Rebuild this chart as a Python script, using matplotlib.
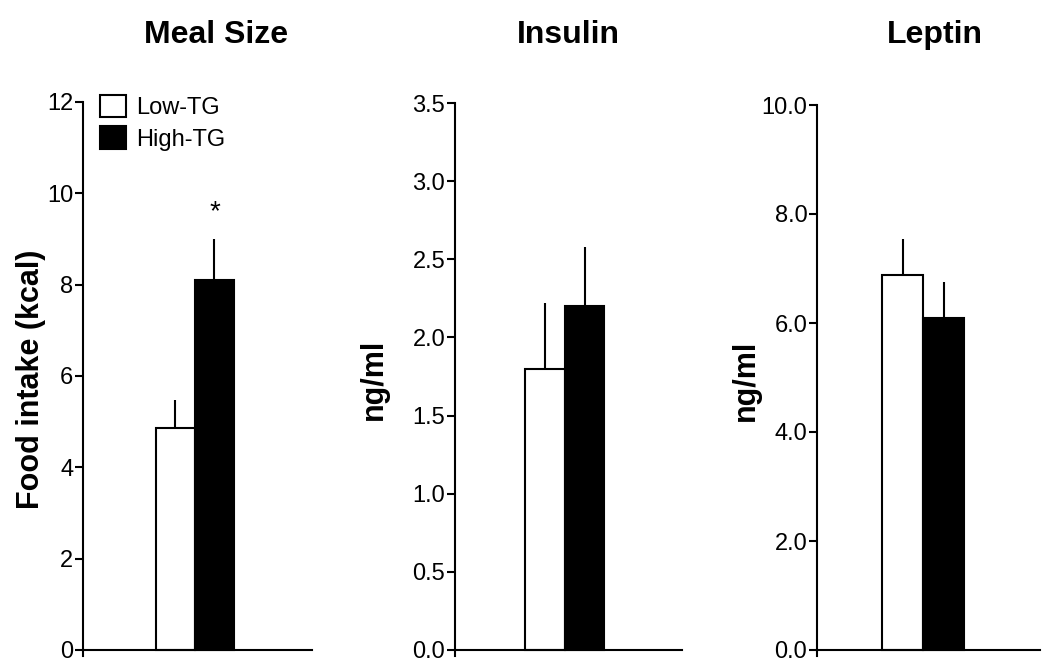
import matplotlib
matplotlib.use('Agg')
import matplotlib.pyplot as plt
from matplotlib.patches import Patch

plt.rcParams['font.family'] = ['Liberation Sans', 'DejaVu Sans']

groups = ['Low-TG', 'High-TG']
titles = ['Meal Size', 'Insulin', 'Leptin']
ylabels = ['Food intake (kcal)', 'ng/ml', 'ng/ml']

meal_mean = [4.86, 8.10]
meal_sem = [0.62, 0.90]
insulin_mean = [1.80, 2.20]
insulin_sem = [0.42, 0.38]
leptin_mean = [6.88, 6.10]
leptin_sem = [0.67, 0.66]

meal_ticks = [0, 2, 4, 6, 8, 10, 12]
insulin_ticks = [0.0, 0.5, 1.0, 1.5, 2.0, 2.5, 3.0, 3.5]
leptin_ticks = [0.0, 2.0, 4.0, 6.0, 8.0, 10.0]

W, H = 1050, 665
fig = plt.figure(figsize=(W / 100, H / 100), dpi=100)

# pixel layout: (left, right, top, xmin, xmax) of each axes, y=0 sits at pixel 650
layout = [(83, 312, 102, -2.87, 3.0), (455, 682, 103, -2.78, 2.96), (817, 1040, 105, -2.59, 2.85)]
means = [meal_mean, insulin_mean, leptin_mean]
sems = [meal_sem, insulin_sem, leptin_sem]
ticks = [meal_ticks, insulin_ticks, leptin_ticks]
fmts = ['{:.0f}', '{:.1f}', '{:.1f}']
label_x = [-0.16, -0.29, -0.25]
title_x = [216, 568, 935]

axes = []
for i in range(3):
    left, right, top, x0, x1 = layout[i]
    bottom = 656
    ax = fig.add_axes([left / W, (H - bottom) / H, (right - left) / W, (bottom - top) / H])
    ymax = ticks[i][-1]
    ax.set_ylim(-ymax * 6 / (650 - top), ymax)
    ax.set_xlim(x0, x1)
    xs = [-0.5, 0.5]
    ax.bar(xs, means[i], width=1.0, color=['white', 'black'], edgecolor='black', linewidth=1.5, zorder=2)
    ax.errorbar(xs, means[i], yerr=[[0, 0], sems[i]], fmt='none', ecolor='black', elinewidth=1.5, capsize=0, zorder=1)
    ax.spines['top'].set_visible(False)
    ax.spines['right'].set_visible(False)
    ax.spines['bottom'].set_position(('data', 0))
    ax.spines['left'].set_linewidth(1.5)
    ax.spines['bottom'].set_linewidth(1.5)
    ax.set_xticks([])
    ax.set_yticks(ticks[i])
    ax.set_yticklabels([fmts[i].format(t) for t in ticks[i]])
    ax.tick_params(axis='y', direction='out', length=6, width=1.5, labelsize=17, pad=1, colors='black')
    ax.set_ylabel(ylabels[i], fontsize=22, fontweight='bold')
    ax.yaxis.set_label_coords(label_x[i], 0.5)
    fig.text(title_x[i] / W, 1 - 35 / H, titles[i], fontsize=23, fontweight='bold', ha='center', va='center')
    axes.append(ax)

# significance mark on meal size
axes[0].text(0.5, meal_mean[1] + meal_sem[1] + 0.3, '*', ha='center', va='bottom', fontsize=20)

handles = [Patch(facecolor='white', edgecolor='black', linewidth=1.5),
           Patch(facecolor='black', edgecolor='black', linewidth=1.5)]
axes[0].legend(handles, groups, loc='upper left', bbox_to_anchor=(0.035, 1.03), frameon=False,
               fontsize=17, handlelength=1.1, handleheight=1.1, handletextpad=0.4, labelspacing=0.3,
               borderaxespad=0)

fig.savefig('out.png', dpi=100)
